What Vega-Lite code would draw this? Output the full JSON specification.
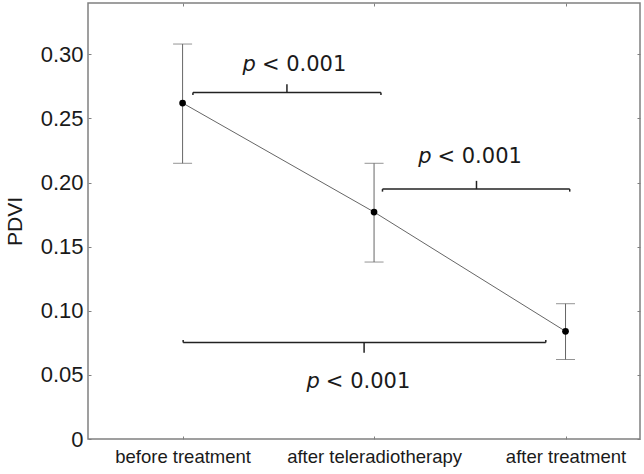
{
  "$schema": "https://vega.github.io/schema/vega-lite/v6.json",
  "autosize": {"type": "none"},
  "width": 552,
  "height": 436,
  "padding": {"left": 88, "top": 3, "right": 4, "bottom": 35},
  "background": "white",
  "config": {
    "view": {"stroke": "#808080", "strokeWidth": 1.5},
    "axis": {"grid": false, "domain": false, "tickColor": "#808080", "tickWidth": 1, "labelFont": "Liberation Sans", "titleFont": "Liberation Sans", "labelColor": "#1a1a1a", "titleColor": "#1a1a1a"}
  },
  "datasets": {
    "pts": [
      {"stage": 1, "mean": 0.262, "lo": 0.215, "hi": 0.308},
      {"stage": 2, "mean": 0.177, "lo": 0.138, "hi": 0.215},
      {"stage": 3, "mean": 0.084, "lo": 0.062, "hi": 0.1055}
    ],
    "hseg": [
      {"x": 1.054, "x2": 2.036, "y": 0.2702},
      {"x": 2.044, "x2": 3.022, "y": 0.1949},
      {"x": 1.003, "x2": 2.897, "y": 0.0752}
    ],
    "vseg": [
      {"x": 1.545, "y": 0.2702, "y2": 0.2766},
      {"x": 1.054, "y": 0.2702, "y2": 0.2682},
      {"x": 2.036, "y": 0.2702, "y2": 0.2682},
      {"x": 2.535, "y": 0.1949, "y2": 0.2013},
      {"x": 2.044, "y": 0.1949, "y2": 0.1929},
      {"x": 3.022, "y": 0.1949, "y2": 0.1929},
      {"x": 1.948, "y": 0.0752, "y2": 0.0672},
      {"x": 1.003, "y": 0.0752, "y2": 0.0772},
      {"x": 2.897, "y": 0.0752, "y2": 0.0772}
    ],
    "labels": [
      {"x": 1.383, "y": 0.2868},
      {"x": 2.3, "y": 0.2149},
      {"x": 1.717, "y": 0.0397}
    ]
  },
  "layer": [
    {
      "data": {"name": "pts"},
      "mark": {"type": "rule", "color": "#666666", "strokeWidth": 1},
      "encoding": {
        "x": {"field": "stage", "type": "quantitative", "scale": {"domain": [0.506, 3.389], "nice": false, "zero": false},
          "axis": {"values": [1, 2, 3], "labelExpr": "datum.value == 1 ? 'before treatment' : datum.value == 2 ? 'after teleradiotherapy' : 'after treatment'", "labelFontSize": 18.5, "labelPadding": 11, "tickSize": -3, "title": null}},
        "y": {"field": "lo", "type": "quantitative", "scale": {"domain": [0, 0.34], "nice": false},
          "axis": {"values": [0, 0.05, 0.1, 0.15, 0.2, 0.25, 0.3], "labelExpr": "datum.value == 0 ? '0' : format(datum.value, '.2f')", "labelFontSize": 22, "labelPadding": 8, "tickSize": -3, "title": "PDVI", "titleFontSize": 21, "titleFontWeight": "normal", "titlePadding": 15}},
        "y2": {"field": "hi"}
      }
    },
    {
      "data": {"name": "pts"},
      "mark": {"type": "tick", "orient": "horizontal", "color": "#666666", "size": 19, "thickness": 1},
      "encoding": {
        "x": {"field": "stage", "type": "quantitative", "axis": {"orient": "top", "values": [1, 2, 3], "labels": false, "tickSize": -3, "title": null}},
        "y": {"field": "hi", "type": "quantitative", "axis": {"orient": "right", "values": [0, 0.05, 0.1, 0.15, 0.2, 0.25, 0.3], "labels": false, "tickSize": -3, "title": null}}
      }
    },
    {
      "data": {"name": "pts"},
      "mark": {"type": "tick", "orient": "horizontal", "color": "#666666", "size": 19, "thickness": 1},
      "encoding": {
        "x": {"field": "stage", "type": "quantitative", "axis": null},
        "y": {"field": "lo", "type": "quantitative", "axis": null}
      }
    },
    {
      "data": {"name": "pts"},
      "mark": {"type": "line", "color": "#666666", "strokeWidth": 1},
      "encoding": {
        "x": {"field": "stage", "type": "quantitative", "axis": null},
        "y": {"field": "mean", "type": "quantitative", "axis": null}
      }
    },
    {
      "data": {"name": "pts"},
      "mark": {"type": "point", "filled": true, "color": "black", "size": 45, "opacity": 1},
      "encoding": {
        "x": {"field": "stage", "type": "quantitative", "axis": null},
        "y": {"field": "mean", "type": "quantitative", "axis": null}
      }
    },
    {
      "data": {"name": "hseg"},
      "mark": {"type": "rule", "color": "#222222", "strokeWidth": 1.5},
      "encoding": {
        "x": {"field": "x", "type": "quantitative", "axis": null},
        "x2": {"field": "x2"},
        "y": {"field": "y", "type": "quantitative", "axis": null}
      }
    },
    {
      "data": {"name": "vseg"},
      "mark": {"type": "rule", "color": "#222222", "strokeWidth": 1.5},
      "encoding": {
        "x": {"field": "x", "type": "quantitative", "axis": null},
        "y": {"field": "y", "type": "quantitative", "axis": null},
        "y2": {"field": "y2"}
      }
    },
    {
      "data": {"name": "labels"},
      "mark": {"type": "text", "text": "p", "font": "DejaVu Sans", "fontStyle": "italic", "fontSize": 21, "align": "right", "baseline": "alphabetic", "color": "#1a1a1a"},
      "encoding": {
        "x": {"field": "x", "type": "quantitative", "axis": null},
        "y": {"field": "y", "type": "quantitative", "axis": null}
      }
    },
    {
      "data": {"name": "labels"},
      "mark": {"type": "text", "text": "< 0.001", "font": "DejaVu Sans", "fontSize": 21, "align": "left", "baseline": "alphabetic", "dx": 6, "color": "#1a1a1a"},
      "encoding": {
        "x": {"field": "x", "type": "quantitative", "axis": null},
        "y": {"field": "y", "type": "quantitative", "axis": null}
      }
    }
  ],
  "resolve": {"axis": {"x": "independent", "y": "independent"}}
}
